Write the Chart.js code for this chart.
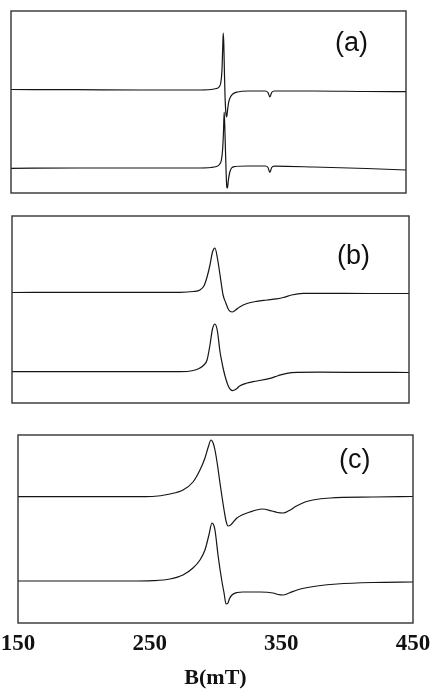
<!DOCTYPE html>
<html>
<head>
<meta charset="utf-8">
<script src="https://cdn.jsdelivr.net/npm/chart.js@4.4.0/dist/chart.umd.min.js"></script>
<style>
  body { margin: 0; background: #fff; width: 435px; height: 692px; position: relative; overflow: hidden; }
  .panel { position: absolute; }
  .tag { position: absolute; font-family: 'Liberation Sans', Arial, sans-serif; font-size: 27px; line-height: 27px; color: #111; }
</style>
</head>
<body>
<div class="panel" style="left:10px;top:10px;width:397px;height:184px"><canvas id="chartA"></canvas></div>
<div class="panel" style="left:11px;top:215px;width:399px;height:189px"><canvas id="chartB"></canvas></div>
<div class="panel" style="left:0;top:434px;width:435px;height:258px"><canvas id="chartC"></canvas></div>
<div class="tag" id="tagA" style="left:335px;top:29px"></div>
<div class="tag" id="tagB" style="left:337px;top:242px"></div>
<div class="tag" id="tagC" style="left:339px;top:446px"></div>

<script>
// field values (mT) and signal (arb. units)
const xTicks = [150, 250, 350, 450];
const panelLabels = ['(a)', '(b)', '(c)'];

// panel (a)
const fieldA1 = [150, 200, 250, 290, 302, 306, 308, 309.3, 310.2, 310.8, 311.2, 311.6, 312.1, 312.6, 313.2, 313.8, 314.4, 315.2, 316.5, 318.5, 322, 330, 343, 345.2, 346.6, 348, 350, 380, 420, 450];
const signalA1 = [103.5, 103.3, 103, 103, 103.5, 104.5, 106, 110, 122, 145, 160, 150, 120, 95, 80, 76, 82, 90, 95.5, 99, 101, 102, 102, 100.5, 96, 100.5, 102, 102, 101.5, 101.3];
const fieldA2 = [150, 200, 250, 290, 302, 306, 308.3, 309.8, 310.8, 311.4, 311.9, 312.4, 312.9, 313.4, 313.9, 314.4, 315, 316, 317.5, 320, 330, 343, 345.2, 346.6, 348, 350, 380, 420, 450];
const signalA2 = [24.7, 25, 25, 25, 25.5, 26.5, 28.5, 33, 45, 62, 81, 65, 42, 20, 6, 5, 12, 20, 25, 26.5, 27, 27, 25.5, 20.5, 25.5, 26.8, 26, 24.5, 23];

// panel (b)
const fieldB1 = [150, 200, 250, 277, 287, 292, 295, 297.4, 299.6, 301.5, 303.4, 305.2, 307.2, 308.3, 309.5, 311.6, 313.8, 316.3, 319, 322, 327.6, 335, 342.7, 350, 355, 361.3, 370, 382, 420, 450];
const signalB1 = [110.5, 110.7, 110.7, 110.7, 111.5, 113, 117, 126, 138, 151, 155, 145, 128, 118, 108, 100, 93, 91, 93, 96, 99.5, 101.7, 103, 104.2, 105.5, 108, 109.6, 109.7, 109.5, 109.5];
const fieldB2 = [150, 250, 277, 287, 292, 295, 297.4, 299.6, 301.5, 303.4, 305.2, 307.2, 308.3, 309.5, 311.6, 313.8, 316.5, 319.5, 322, 327.6, 332.1, 345, 351, 357.6, 365.1, 382, 420, 450];
const signalB2 = [31.3, 31.3, 31.3, 32.5, 35, 38, 43, 58, 74, 79, 72, 51, 43, 35, 24, 16, 12.3, 14, 17, 20, 21.3, 24.7, 27.3, 29.7, 30.7, 30.8, 30.6, 30.5];

// panel (c)
const fieldC1 = [150, 200, 240, 252, 265.4, 275.3, 282.9, 288.2, 292, 294.5, 296.6, 298.2, 299.6, 301.5, 303.4, 306.5, 308, 309.5, 311.5, 316.3, 326.2, 335.3, 342.9, 347, 351.3, 356, 361.5, 368, 374, 387, 420, 450];
const signalC1 = [126.3, 126.3, 126.3, 126.5, 129, 133, 141, 153, 165, 176, 183, 180, 173, 158, 140, 113, 102, 97, 98, 105, 111, 114, 112, 110.5, 110, 112.5, 117, 121, 123, 125, 126, 126.5];
const fieldC2 = [150, 200, 240, 252, 265.4, 275.3, 282.9, 288.2, 292, 295, 297.3, 298.6, 299.6, 302.1, 304.7, 306.5, 308, 309.5, 310.5, 312.5, 316.5, 320.9, 333.8, 343.7, 347.5, 351.3, 356, 361.9, 370, 377.1, 392.3, 420, 450];
const signalC2 = [42, 42, 42, 42.3, 44, 48, 55, 63, 73, 88, 100, 98, 93, 66, 43, 30, 19, 20, 24, 28, 30.5, 31, 31, 30, 28.5, 28, 30, 33, 35.5, 37, 39, 40.5, 41];

function toPoints(xs, ys) {
    return xs.map((x, i) => ({ x: x, y: ys[i] }));
}

// draws the box round each plot area
const framePlugin = {
    id: 'frame',
    afterDraw(chart) {
        const { ctx, chartArea: a } = chart;
        ctx.save();
        ctx.strokeStyle = '#333';
        ctx.lineWidth = 1.4;
        ctx.strokeRect(a.left, a.top, a.right - a.left, a.bottom - a.top);
        ctx.restore();
    }
};

function makePanel(id, curves, yMax, withAxis) {
    const datasets = curves.map(c => ({
        data: toPoints(c[0], c[1]),
        borderColor: '#151515',
        borderWidth: 1.2,
        pointRadius: 0,
        fill: false,
        cubicInterpolationMode: 'monotone'
    }));

    const xScale = {
        type: 'linear',
        min: 150,
        max: 450,
        display: withAxis
    };
    if (withAxis) {
        Object.assign(xScale, {
            grid: { display: false, drawTicks: false },
            border: { display: false },
            afterBuildTicks: axis => { axis.ticks = xTicks.map(v => ({ value: v })); },
            ticks: {
                autoSkip: false,
                maxRotation: 0,
                padding: 7,
                color: '#111',
                font: { family: "'Liberation Serif', 'Times New Roman', serif", weight: 'bold', size: 23 }
            },
            title: {
                display: true,
                text: 'B(mT)',
                color: '#111',
                padding: { top: 0, bottom: 0 },
                font: { family: "'Liberation Serif', 'Times New Roman', serif", weight: 'bold', size: 22 }
            },
            afterFit: s => {
                s.height = 69;
                // keep the label overhang from shrinking the plot box
                s.paddingLeft = 0;
                s.paddingRight = 0;
            }
        });
    }

    return new Chart(document.getElementById(id), {
        type: 'line',
        data: { datasets: datasets },
        options: {
            responsive: true,
            maintainAspectRatio: false,
            animation: false,
            layout: { padding: withAxis ? { left: 18, right: 22, top: 1, bottom: 0 } : 1 },
            scales: {
                x: xScale,
                y: { min: 0, max: yMax, display: false }
            },
            plugins: { legend: { display: false }, tooltip: { enabled: false } }
        },
        plugins: [framePlugin]
    });
}

makePanel('chartA', [[fieldA1, signalA1], [fieldA2, signalA2]], 182, false);
makePanel('chartB', [[fieldB1, signalB1], [fieldB2, signalB2]], 187, false);
makePanel('chartC', [[fieldC1, signalC1], [fieldC2, signalC2]], 188, true);

document.getElementById('tagA').textContent = panelLabels[0];
document.getElementById('tagB').textContent = panelLabels[1];
document.getElementById('tagC').textContent = panelLabels[2];
</script>
</body>
</html>
